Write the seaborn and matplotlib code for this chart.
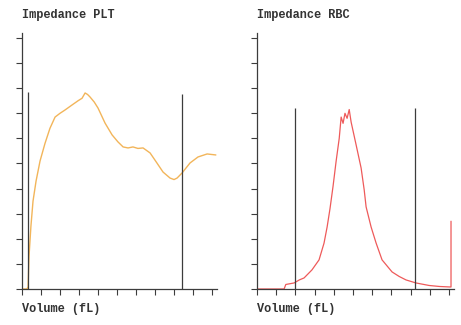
import matplotlib
matplotlib.use("Agg")
import matplotlib.pyplot as plt
import seaborn as sns
import pandas as pd

# ---- data ----
plt_x = [0, 0.26, 0.32, 0.37, 0.47, 0.58, 0.74, 0.95, 1.21, 1.47, 1.74, 2.0, 2.26,
         2.63, 2.95, 3.16, 3.32, 3.45, 3.58, 3.8, 4.0, 4.37, 4.74, 5.05, 5.32, 5.58,
         5.84, 6.1, 6.37, 6.74, 7.1, 7.42, 7.79, 8.0, 8.16, 8.42, 8.84, 9.26, 9.74, 10.2]
plt_y = [0, 0, 0.08, 1.3, 2.5, 3.5, 4.3, 5.1, 5.8, 6.4, 6.85, 7.0, 7.13,
         7.33, 7.5, 7.6, 7.81, 7.75, 7.65, 7.45, 7.21, 6.61, 6.14, 5.86, 5.66, 5.62,
         5.66, 5.6, 5.62, 5.42, 5.02, 4.66, 4.42, 4.36, 4.42, 4.62, 5.02, 5.26, 5.38, 5.34]

rbc_x = [0, 1.41, 1.5, 1.93, 2.2, 2.45, 2.86, 3.23, 3.49, 3.65, 3.8, 3.96, 4.12, 4.28,
         4.38, 4.48, 4.58, 4.69, 4.8, 4.9, 5.16, 5.42, 5.58, 5.68, 5.94, 6.2, 6.51,
         7.03, 7.4, 7.76, 8.28, 8.96, 9.5, 10.05, 10.1, 10.1]
rbc_y = [0, 0, 0.18, 0.24, 0.36, 0.44, 0.76, 1.16, 1.83, 2.47, 3.2, 4.1, 5.1, 6.0,
         6.85, 6.6, 7.0, 6.8, 7.15, 6.65, 5.74, 4.82, 3.95, 3.27, 2.47, 1.83, 1.16,
         0.68, 0.5, 0.36, 0.24, 0.14, 0.1, 0.08, 0.08, 2.7]

plt_markers_x = [0.32, 8.42]
plt_markers_top = [7.85, 7.77]
rbc_markers_x = [1.98, 8.23]
rbc_markers_top = [7.21, 7.21]

titles = ["Impedance PLT", "Impedance RBC"]
xlabel = "Volume (fL)"
ticks = list(range(0, 11))

# ---- drawing ----
sns.set_style("white")
plt.rcParams['font.family'] = ['Liberation Mono', 'DejaVu Sans Mono']

fig = plt.figure(figsize=(4.61, 3.25), dpi=100)
axL = fig.add_axes([0.0477, 0.1108, 0.4230, 0.7877])
axR = fig.add_axes([0.5575, 0.1108, 0.4275, 0.7877])

axis_col = "#3c3c3c"
df_plt = pd.DataFrame({"x": plt_x, "y": plt_y})
df_rbc = pd.DataFrame({"x": rbc_x, "y": rbc_y})

sns.lineplot(data=df_plt, x="x", y="y", ax=axL, sort=False, estimator=None,
             color="#f2b55a", linewidth=1.0)
sns.lineplot(data=df_rbc, x="x", y="y", ax=axR, sort=False, estimator=None,
             color="#ee5a5a", linewidth=0.9)

axL.vlines(plt_markers_x, 0, plt_markers_top, color=axis_col, linewidth=0.9)
axR.vlines(rbc_markers_x, 0, rbc_markers_top, color=axis_col, linewidth=0.9)

for ax, title in zip([axL, axR], titles):
    ax.set_xlim(0, 10.26)
    ax.set_ylim(0, 10.2)
    ax.set_xticks(ticks)
    ax.set_yticks(ticks)
    ax.set_xticklabels([])
    ax.set_yticklabels([])
    ax.set_xlabel("")
    ax.set_ylabel("")
    for s in ["top", "right"]:
        ax.spines[s].set_visible(False)
    for s in ["left", "bottom"]:
        ax.spines[s].set_color(axis_col)
        ax.spines[s].set_linewidth(0.9)
    ax.tick_params(axis="both", direction="out", length=4, width=0.8,
                   color=axis_col, bottom=True, left=True)
    ax.set_facecolor("white")
    pos = ax.get_position()
    fig.text(pos.x0, 1 - 15 / 325, title, fontsize=8.6, fontweight="bold",
             color="#333333", ha="left", va="center")
    fig.text(pos.x0, 1 - 309 / 325, xlabel, fontsize=8.6, fontweight="bold",
             color="#333333", ha="left", va="center")

fig.savefig("out.png", dpi=100, facecolor="white")
